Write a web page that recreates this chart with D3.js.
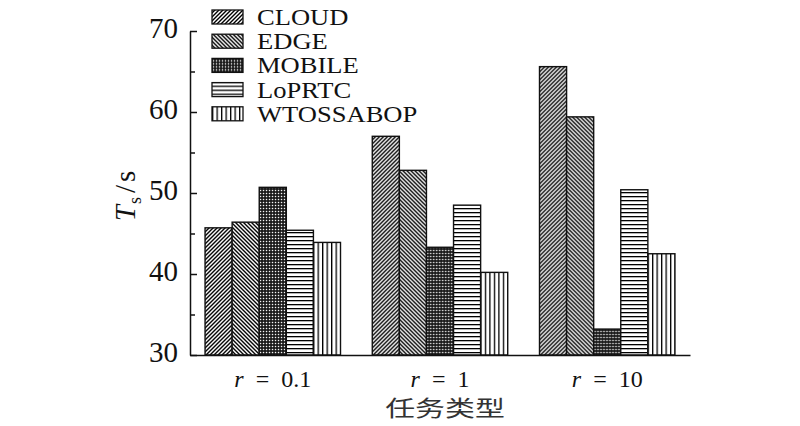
<!DOCTYPE html>
<html><head><meta charset="utf-8">
<script src="https://cdn.jsdelivr.net/npm/d3@7"></script>
<style>
body{margin:0;background:#fff;}
svg{display:block;}
text{font-family:"Liberation Serif","Times New Roman",serif;fill:#111;}
text.cjk{font-family:"Noto Sans CJK SC",sans-serif;fill:#333;}
</style></head>
<body><svg id="c" width="800" height="426"></svg>
<script>
const categories = ["0.1", "1", "10"];
const seriesNames = ["CLOUD", "EDGE", "MOBILE", "LoPRTC", "WTOSSABOP"];
const cloud  = [45.7, 57.0, 65.6];
const edge   = [46.4, 52.8, 59.4];
const mobile = [50.7, 43.3, 33.2];
const loprtc = [45.4, 48.5, 50.4];
const wtoss  = [43.9, 40.2, 42.5];
const yTicks = [30, 40, 50, 60, 70];
const yMinor = [35, 45, 55, 65];
const xTitle = "任务类型";

const seriesValues = [cloud, edge, mobile, loprtc, wtoss];
const patIds = ["p-cloud", "p-edge", "p-mobile", "p-lo", "p-wt"];

const svg = d3.select("#c");
const defs = svg.append("defs");
function pat(id, w, h) {
  return defs.append("pattern").attr("id", id).attr("patternUnits", "userSpaceOnUse")
    .attr("width", w).attr("height", h);
}
let p = pat("p-cloud", 4, 4);
p.append("rect").attr("width", 4).attr("height", 4).attr("fill", "#fff");
p.append("path").attr("d", "M-1,1 l2,-2 M0,4 l4,-4 M3,5 l2,-2").attr("stroke", "#000").attr("stroke-width", 1.4);
p = pat("p-edge", 4, 4);
p.append("rect").attr("width", 4).attr("height", 4).attr("fill", "#fff");
p.append("path").attr("d", "M-1,3 l2,2 M0,0 l4,4 M3,-1 l2,2").attr("stroke", "#000").attr("stroke-width", 1.4);
p = pat("p-mobile", 3, 3);
p.append("rect").attr("width", 3).attr("height", 3).attr("fill", "#111");
p.append("rect").attr("x", 0.8).attr("y", 0.8).attr("width", 1.4).attr("height", 1.4).attr("fill", "#fff");
p = pat("p-lo", 4, 4);
p.append("rect").attr("width", 4).attr("height", 4).attr("fill", "#fff");
p.append("rect").attr("y", 0).attr("width", 4).attr("height", 1.3).attr("fill", "#000");
p = pat("p-wt", 4.5, 4);
p.append("rect").attr("width", 4.5).attr("height", 4).attr("fill", "#fff");
p.append("rect").attr("x", 0).attr("width", 1.3).attr("height", 4).attr("fill", "#000");

const y = d3.scaleLinear().domain([30, 70]).range([355, 31]);
const x0 = d3.scaleBand().domain(categories).range([190, 690]).paddingInner(0.19).paddingOuter(0.09);
const x1 = d3.scaleBand().domain(seriesNames).range([0, x0.bandwidth()]);

// bars
const groups = svg.append("g").selectAll("g").data(categories).join("g")
  .attr("transform", c => `translate(${x0(c)},0)`);
groups.selectAll("rect").data((c, i) => seriesNames.map((s, j) => ({s, j, v: seriesValues[j][i]})))
  .join("rect")
  .attr("x", d => x1(d.s)).attr("width", x1.bandwidth())
  .attr("y", d => y(d.v)).attr("height", d => y(30) - y(d.v))
  .attr("fill", d => `url(#${patIds[d.j]})`)
  .attr("stroke", "#111").attr("stroke-width", 1.4);

// y axis
const ya = svg.append("g").attr("transform", "translate(190,0)")
  .call(d3.axisLeft(y).tickValues(yTicks).tickSizeInner(-7).tickSizeOuter(0).tickPadding(12));
ya.select(".domain").attr("stroke", "#111").attr("stroke-width", 1.5);
ya.selectAll(".tick line").attr("stroke", "#111").attr("stroke-width", 1.5);
ya.selectAll(".tick text").attr("font-size", 29).attr("dy", "0.22em");
const ym = svg.append("g").attr("transform", "translate(190,0)")
  .call(d3.axisLeft(y).tickValues(yMinor).tickSizeInner(-5).tickSizeOuter(0).tickFormat(""));
ym.select(".domain").remove();
ym.selectAll(".tick line").attr("stroke", "#111").attr("stroke-width", 1.5);

// x axis
const xa = svg.append("g").attr("transform", "translate(0,355)")
  .call(d3.axisBottom(x0).tickSize(0).tickSizeOuter(0).tickFormat(""));
xa.select(".domain").attr("stroke", "#111").attr("stroke-width", 1.5);
xa.selectAll(".tick").each(function(c) {
  const t = d3.select(this).append("text").attr("y", 32).attr("text-anchor", "middle")
    .attr("font-size", 24);
  t.append("tspan").attr("font-style", "italic").text("r");
  t.append("tspan").attr("dx", "0.5em").text("=");
  t.append("tspan").attr("dx", "0.5em").text(c);
});

// x title
svg.append("text").attr("class", "cjk").attr("transform", "translate(445,416) scale(1.36,1)")
  .attr("text-anchor", "middle").attr("font-size", 22).text(xTitle);

// y title
const yt = svg.append("text").attr("transform", "translate(135,196) rotate(-90)")
  .attr("text-anchor", "middle").attr("font-size", 29);
yt.append("tspan").attr("font-style", "italic").text("T");
yt.append("tspan").attr("font-size", 18).attr("dx", 1).attr("dy", 6).text("s");
yt.append("tspan").attr("dx", 4).attr("dy", -6).text("/");
yt.append("tspan").attr("dx", 3).text("s");

// legend
const lg = svg.append("g").selectAll("g").data(seriesNames).join("g")
  .attr("transform", (d, i) => `translate(212,${17 + i * 24.2})`);
lg.append("rect").attr("x", 0).attr("y", -7).attr("width", 31).attr("height", 14)
  .attr("fill", (d, i) => `url(#${patIds[i]})`).attr("stroke", "#111").attr("stroke-width", 1.3);
lg.append("text").attr("transform", "translate(45,8) scale(1.13,1)")
  .attr("font-size", 23.5).text(d => d);
</script></body></html>
